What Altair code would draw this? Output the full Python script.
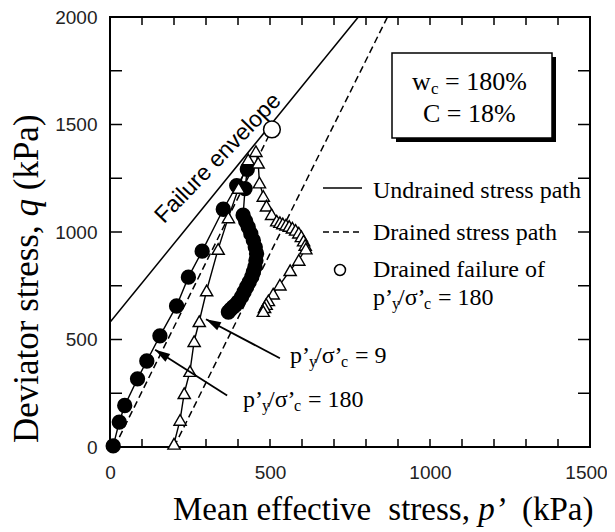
import math
import altair as alt
import pandas as pd

# ---------------- data ----------------
x_tick_values = list(range(0, 1501, 100))
y_tick_values = list(range(0, 2001, 250))
x_label_values = [0, 500, 1000, 1500]
y_label_values = [0, 500, 1000, 1500, 2000]

envelope_p = [0, 776]
envelope_q = [580, 2000]

drained_180_p = [14, 506]
drained_180_q = [0, 1477]
drained_9_p = [200, 867]
drained_9_q = [0, 2000]

undrained_180_p = [10, 29, 46, 86, 115, 156, 208, 245, 288, 354, 396, 429,
                   422, 416, 424, 432, 440, 448, 454, 458, 456, 453, 448, 443,
                   435, 427, 419, 411, 400, 392, 385, 377, 370]
undrained_180_q = [5, 116, 193, 317, 400, 517, 656, 790, 911, 1106, 1216, 1292,
                   1202, 1078, 1050, 1023, 992, 961, 930, 900, 868, 837, 814, 791,
                   767, 744, 721, 698, 675, 660, 651, 640, 628]

undrained_9_p = [200, 219, 232, 250, 263, 279, 302, 338, 370, 402, 432, 456,
                 463, 467, 479, 489, 505, 521, 531,
                 540, 550, 560, 570, 580, 590, 598, 605, 610, 612,
                 590, 563, 531, 510, 495, 488, 483, 479]
undrained_9_q = [15, 126, 250, 353, 492, 585, 728, 921, 1068, 1205, 1338, 1376,
                 1322, 1230, 1168, 1122, 1083, 1053, 1046,
                 1040, 1034, 1028, 1020, 1010, 997, 980, 960, 940, 923,
                 870, 822, 755, 713, 682, 665, 650, 632]

failure_p = [506]
failure_q = [1477]

arrow_tail_p = [531, 366]
arrow_tail_q = [413, 240]
arrow_tip_p = [300, 141]
arrow_tip_q = [594, 452]

# ---------------- layout ----------------
W, H = 480, 430
P_MAX, Q_MAX = 1500, 2000
KX = W / P_MAX
KY = H / Q_MAX
SERIF = "Liberation Serif"
SANS = "Liberation Sans"

TIMES = {" ": 250, "(": 333, ")": 333, ",": 250, "/": 278, "=": 564, "%": 833,
         "’": 333, "A": 722, "C": 667, "D": 722, "M": 889, "P": 556, "U": 722,
         "a": 444, "c": 444, "d": 500, "e": 444, "f": 333, "h": 500, "i": 278,
         "k": 500, "l": 278, "n": 500, "o": 500, "p": 500, "q": 500, "r": 333,
         "s": 389, "t": 278, "u": 500, "v": 500, "w": 722, "y": 500, "σ": 550}


def tw(s, size):
    return sum(TIMES.get(c, 500) for c in s) / 1000.0 * size


xs = alt.Scale(domain=[0, P_MAX], nice=False, zero=False)
ys = alt.Scale(domain=[0, Q_MAX], nice=False, zero=False)

X = alt.X("p:Q", scale=xs, title=None,
          axis=alt.Axis(values=x_label_values, format="d", ticks=False, tickSize=0,
                        domain=False, grid=False, labelFont=SANS, labelFontSize=19,
                        labelColor="#222", labelPadding=16, labelFlush=False,
                        labelOverlap=False,
                        labelOffset={"condition": {"test": "datum.value == 1500", "value": -4},
                                     "value": 0}))
Y = alt.Y("q:Q", scale=ys, title=None,
          axis=alt.Axis(values=y_label_values, format="d", ticks=False, tickSize=0,
                        domain=False, grid=False, labelFont=SANS, labelFontSize=19,
                        labelColor="#222", labelPadding=13, labelFlush=False,
                        labelOverlap=False))


def series(p, q):
    return pd.DataFrame({"p": p, "q": q, "i": list(range(len(p)))})


def txt(s, px, py, size, font=SERIF, italic=False, angle=0, align="left"):
    return alt.Chart(pd.DataFrame({"t": [s]})).mark_text(
        align=align, baseline="alphabetic", font=font, fontSize=size,
        fontStyle="italic" if italic else "normal", angle=angle, color="black"
    ).encode(text="t:N", x=alt.value(px), y=alt.value(py))


def ratio_label(px, py, tail, size=24):
    sub = round(size * 0.67)
    return [
        txt("p’", px, py, size),
        txt("y", px + 19, py + 4, sub),
        txt("/σ’", px + 25, py, size),
        txt("c", px + 51, py + 4, sub),
        txt(tail, px + 65, py, size),
    ]


layers = []

# tick marks (inward, all four sides)
xt = pd.DataFrame({"p": x_tick_values})
yt = pd.DataFrame({"q": y_tick_values})
layers.append(alt.Chart(xt).mark_rule(color="black", strokeWidth=1.5).encode(
    x=X, y=alt.value(H), y2=alt.value(H - 8)))
layers.append(alt.Chart(xt).mark_rule(color="black", strokeWidth=1.5).encode(
    x=X, y=alt.value(0), y2=alt.value(8)))
layers.append(alt.Chart(yt).mark_rule(color="black", strokeWidth=1.5).encode(
    y=Y, x=alt.value(0), x2=alt.value(12)))
layers.append(alt.Chart(yt).mark_rule(color="black", strokeWidth=1.5).encode(
    y=Y, x=alt.value(W), x2=alt.value(W - 12)))

# failure envelope + drained paths
layers.append(alt.Chart(series(envelope_p, envelope_q)).mark_line(
    color="black", strokeWidth=1.5).encode(x=X, y=Y, order="i:Q"))
for pp, qq in [(drained_180_p, drained_180_q), (drained_9_p, drained_9_q)]:
    layers.append(alt.Chart(series(pp, qq)).mark_line(
        color="black", strokeWidth=1.5, strokeDash=[7, 4]).encode(x=X, y=Y, order="i:Q"))

# undrained paths
df180 = series(undrained_180_p, undrained_180_q)
df9 = series(undrained_9_p, undrained_9_q)
layers.append(alt.Chart(df180).mark_line(color="black", strokeWidth=1.4).encode(
    x=X, y=Y, order="i:Q"))
layers.append(alt.Chart(df9).mark_line(color="black", strokeWidth=1.4).encode(
    x=X, y=Y, order="i:Q"))
layers.append(alt.Chart(df180).mark_point(
    shape="circle", filled=True, color="black", size=235, opacity=1).encode(x=X, y=Y))
layers.append(alt.Chart(df9).mark_point(
    shape="triangle-up", filled=True, fill="white", stroke="black", strokeWidth=1.4,
    size=150, opacity=1).encode(x=X, y=Y))

# drained failure point
layers.append(alt.Chart(series(failure_p, failure_q)).mark_point(
    shape="circle", filled=True, fill="white", stroke="black", strokeWidth=1.5,
    size=280, opacity=1).encode(x=X, y=Y))

# arrows
adf = pd.DataFrame({"p": arrow_tail_p, "q": arrow_tail_q,
                    "p2": arrow_tip_p, "q2": arrow_tip_q})
layers.append(alt.Chart(adf).mark_rule(color="black", strokeWidth=1.8).encode(
    x=X, y=Y, x2="p2:Q", y2="q2:Q"))
for k in range(len(arrow_tip_p)):
    dx = (arrow_tip_p[k] - arrow_tail_p[k]) * KX
    dy = -(arrow_tip_q[k] - arrow_tail_q[k]) * KY
    ang = math.degrees(math.atan2(dx, -dy)) % 360
    layers.append(alt.Chart(series([arrow_tip_p[k]], [arrow_tip_q[k]])).mark_point(
        shape="M0,0L-0.6,2L0.6,2Z", filled=True, color="black", size=225,
        angle=ang, opacity=1).encode(x=X, y=Y))

# info box with shadow
bx1, bx2, by1, by2 = 282, 442, 36, 121
one = pd.DataFrame({"t": [0]})
layers.append(alt.Chart(one).mark_rect(color="black").encode(
    x=alt.value(bx1 + 4), x2=alt.value(bx2 + 4), y=alt.value(by1 + 4), y2=alt.value(by2 + 4)))
layers.append(alt.Chart(one).mark_rect(fill="white", stroke="black", strokeWidth=1.5).encode(
    x=alt.value(bx1), x2=alt.value(bx2), y=alt.value(by1), y2=alt.value(by2)))
layers.append(txt("w", 302, 73, 26))
layers.append(txt("c", 321, 77, 17))
layers.append(txt("= 180%", 335, 73, 26))
layers.append(txt("C = 18%", 313, 105, 26))

# legend
layers.append(alt.Chart(one).mark_rule(color="black", strokeWidth=1.5).encode(
    x=alt.value(213), x2=alt.value(252), y=alt.value(171)))
layers.append(alt.Chart(one).mark_rule(color="black", strokeWidth=1.5, strokeDash=[6, 4]).encode(
    x=alt.value(213), x2=alt.value(252), y=alt.value(215)))
layers.append(alt.Chart(one).mark_point(
    shape="circle", filled=True, fill="white", stroke="black", strokeWidth=1.5,
    size=120, opacity=1).encode(x=alt.value(230), y=alt.value(253)))
layers.append(txt("Undrained stress path", 263, 181, 24))
layers.append(txt("Drained stress path", 263, 223, 24))
layers.append(txt("Drained failure of", 263, 260, 24))
layers += ratio_label(263, 288, "= 180")

# arrow labels
layers += ratio_label(180, 346, "= 9")
layers += ratio_label(133, 390, "= 180")

# failure envelope label
layers.append(txt("Failure envelope", 113, 146, 23, font=SANS, angle=314, align="center"))

# axis titles (with italic symbols)
XT = 33
x0 = 63
layers.append(txt("Mean effective", x0, 503, XT))
x1 = x0 + tw("Mean effective  ", XT)
layers.append(txt("stress,", x1, 503, XT))
x2 = x1 + tw("stress, ", XT)
layers.append(txt("p’", x2, 503, XT, italic=True))
x3 = x2 + tw("p’ ", XT) + 8
layers.append(txt("(kPa)", x3, 503, XT))

YT = 35
yb = -72
y0 = 426
layers.append(txt("Deviator stress,", yb, y0, YT, angle=270))
y1 = y0 - tw("Deviator stress, ", YT)
layers.append(txt("q", yb, y1, YT, italic=True, angle=270))
y2 = y1 - tw("q ", YT)
layers.append(txt("(kPa)", yb, y2, YT, angle=270))

chart = alt.layer(*layers).properties(
    width=W, height=H,
    autosize=alt.AutoSizeParams(type="none"),
    padding={"left": 102, "top": 9, "right": 17, "bottom": 82},
    background="white",
).configure_view(stroke="black", strokeWidth=2)

chart.save("out.html", embed_options={"renderer": "svg", "actions": False})
